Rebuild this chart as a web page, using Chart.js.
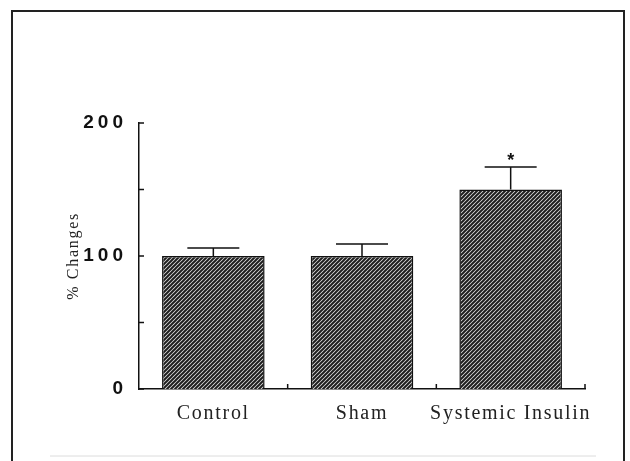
<!DOCTYPE html>
<html>
<head>
<meta charset="utf-8">
<script src="https://cdn.jsdelivr.net/npm/chart.js@4.4.1/dist/chart.umd.min.js"></script>
<style>
  html, body { margin: 0; padding: 0; background: #fff; }
  #wrap { width: 630px; height: 461px; }
</style>
</head>
<body>
<div id="wrap"><canvas id="myChart" width="630" height="461"></canvas></div>
<script>
// data
const categories = ['Control', 'Sham', 'Systemic Insulin'];
const means = [100, 100, 150];
const sems = [6, 9, 17];
const marks = ['', '', '*'];
const yTicks = [0, 50, 100, 150, 200];
const yLabels = [0, 100, 200];

// diagonal hatch like the scanned bars
function hatch() {
    const c = document.createElement('canvas');
    c.width = 4; c.height = 4;
    const g = c.getContext('2d');
    g.fillStyle = '#e6e6e6';
    g.fillRect(0, 0, 4, 4);
    g.strokeStyle = '#1e1e1e';
    g.lineWidth = 2;
    g.beginPath();
    g.moveTo(-1, 5); g.lineTo(5, -1);
    g.moveTo(-3, 3); g.lineTo(3, -3);
    g.moveTo(1, 7); g.lineTo(7, 1);
    g.stroke();
    return g.createPattern(c, 'repeat');
}

const extras = {
    id: 'extras',
    beforeDraw(chart) {
        const ctx = chart.ctx;
        ctx.save();
        ctx.fillStyle = '#fff';
        ctx.fillRect(0, 0, chart.width, chart.height);
        // frame
        ctx.strokeStyle = '#222';
        ctx.lineWidth = 2;
        ctx.beginPath();
        ctx.moveTo(12, 461); ctx.lineTo(12, 11); ctx.lineTo(624, 11); ctx.lineTo(624, 461);
        ctx.stroke();
        ctx.strokeStyle = '#dcdcdc';
        ctx.lineWidth = 1;
        ctx.beginPath();
        ctx.moveTo(50, 456); ctx.lineTo(596, 456);
        ctx.stroke();
        ctx.restore();
        ctx.letterSpacing = '1.7px';
    },
    afterDatasetsDraw(chart) {
        const ctx = chart.ctx;
        const x = chart.scales.x, y = chart.scales.y;
        ctx.save();
        ctx.letterSpacing = '0px';
        ctx.strokeStyle = '#111';
        ctx.lineWidth = 1.5;
        // inward y ticks
        yTicks.forEach(v => {
            const py = y.getPixelForValue(v);
            ctx.beginPath();
            ctx.moveTo(x.left, py); ctx.lineTo(x.left + 5, py);
            ctx.stroke();
        });
        // x ticks between categories
        for (let i = 0; i < categories.length; i++) {
            const px = i < categories.length - 1
                ? (x.getPixelForValue(i) + x.getPixelForValue(i + 1)) / 2
                : x.right;
            ctx.beginPath();
            ctx.moveTo(px, y.bottom); ctx.lineTo(px, y.bottom - 5);
            ctx.stroke();
        }
        // error bars + significance
        const meta = chart.getDatasetMeta(0);
        meta.data.forEach((bar, i) => {
            const top = y.getPixelForValue(means[i] + sems[i]);
            ctx.beginPath();
            ctx.moveTo(bar.x, bar.y); ctx.lineTo(bar.x, top);
            ctx.moveTo(bar.x - 26, top); ctx.lineTo(bar.x + 26, top);
            ctx.stroke();
            if (marks[i]) {
                ctx.fillStyle = '#111';
                ctx.font = 'bold 18px "Liberation Sans", Arial, sans-serif';
                ctx.textAlign = 'center';
                ctx.textBaseline = 'middle';
                ctx.fillText(marks[i], bar.x, top - 6);
            }
        });
        ctx.restore();
        ctx.letterSpacing = '4px';
    },
    afterDraw(chart) {
        chart.ctx.letterSpacing = '0px';
    }
};

new Chart(document.getElementById('myChart'), {
    type: 'bar',
    data: {
        labels: categories,
        datasets: [{
            data: means,
            backgroundColor: hatch(),
            borderColor: '#111',
            borderWidth: 1.5,
            barPercentage: 0.69,
            categoryPercentage: 1
        }]
    },
    plugins: [extras],
    options: {
        responsive: false,
        animation: false,
        events: [],
        layout: { padding: { left: 60, top: 123, right: 45, bottom: 22 } },
        plugins: { legend: { display: false }, tooltip: { enabled: false } },
        scales: {
            x: {
                grid: { display: false, drawTicks: false },
                border: { display: true, color: '#111', width: 1.5 },
                ticks: {
                    color: '#222',
                    padding: 13,
                    maxRotation: 0,
                    font: { family: '"Liberation Serif", "Times New Roman", serif', size: 20 }
                },
                afterFit(s) { s.height = 50; }
            },
            y: {
                min: 0,
                max: 200,
                grid: { display: false, drawTicks: false },
                border: { display: true, color: '#111', width: 1.5 },
                afterBuildTicks(s) { s.ticks = yTicks.map(v => ({ value: v })); },
                ticks: {
                    z: 1,
                    color: '#111',
                    padding: 12,
                    font: { family: '"Liberation Sans", Arial, sans-serif', size: 19, weight: 'bold' },
                    callback: v => yLabels.includes(v) ? String(v) : ''
                },
                title: {
                    display: true,
                    text: '% Changes',
                    color: '#222',
                    padding: { top: 4, bottom: 0 },
                    font: { family: '"Liberation Serif", "Times New Roman", serif', size: 16 }
                },
                afterFit(s) { s.width = 79; }
            }
        }
    }
});
</script>
</body>
</html>
